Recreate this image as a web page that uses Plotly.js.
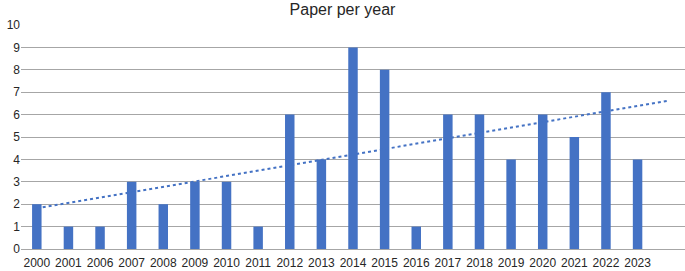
<!DOCTYPE html>
<html>
<head>
<meta charset="utf-8">
<script src="https://cdn.plot.ly/plotly-3.0.1.min.js"></script>
<style>html,body{margin:0;padding:0;background:#fff;}#chart{width:685px;height:271px;}</style>
</head>
<body>
<div id="chart"></div>
<script>
const years = ["2000","2001","2006","2007","2008","2009","2010","2011","2012","2013","2014","2015","2016","2017","2018","2019","2020","2021","2022","2023"];
const papers = [2,1,1,3,2,3,3,1,6,4,9,8,1,6,6,4,6,5,7,4];
const forecastPeriods = 1;

const idx = years.map((_, i) => i);
// least-squares linear trendline (as in the spreadsheet), extended by one period
const n = papers.length;
const mx = idx.reduce((a, b) => a + b, 0) / n;
const my = papers.reduce((a, b) => a + b, 0) / n;
let sxy = 0, sxx = 0;
for (let i = 0; i < n; i++) { sxy += (idx[i] - mx) * (papers[i] - my); sxx += (idx[i] - mx) ** 2; }
const slope = sxy / sxx, intercept = my - slope * mx;
const trendX = [0, n - 1 + forecastPeriods];
const trendY = trendX.map(x => intercept + slope * x);

const font = "Liberation Sans, Arial, sans-serif";
Plotly.newPlot("chart", [
  {type: "bar", x: idx, y: papers, width: 0.3, marker: {color: "#4472C4"}, hoverinfo: "skip"},
  {type: "scatter", mode: "lines", x: trendX, y: trendY, line: {color: "#4472C4", width: 2, dash: "dot"}, hoverinfo: "skip"}
], {
  width: 685, height: 271,
  margin: {l: 21, r: 0, t: 25, b: 22},
  showlegend: false,
  paper_bgcolor: "#fff", plot_bgcolor: "#fff",
  title: {text: "Paper per year", font: {family: font, size: 16, color: "#262626"}, x: 0.5, xanchor: "center", y: 0.985, yanchor: "top"},
  xaxis: {range: [-0.5, n - 0.5 + forecastPeriods], tickmode: "array", tickvals: idx, ticktext: years,
          showgrid: false, zeroline: false, showline: true, linecolor: "#a6a6a6", linewidth: 1,
          ticks: "", ticklabelstandoff: 3, tickfont: {family: font, size: 12, color: "#262626"}, fixedrange: true},
  yaxis: {range: [0, 10], dtick: 1, showgrid: true, gridcolor: "#a6a6a6", gridwidth: 1, zeroline: false,
          ticks: "", tickfont: {family: font, size: 12, color: "#262626"}, fixedrange: true}
}, {displayModeBar: false, staticPlot: true});
</script>
</body>
</html>
